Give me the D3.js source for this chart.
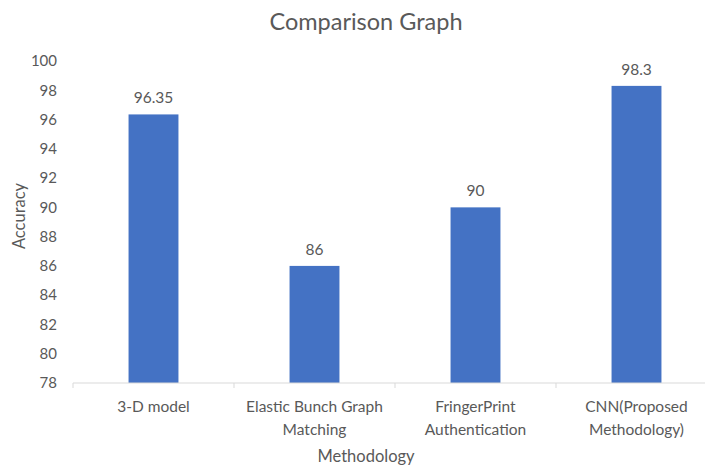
<!DOCTYPE html>
<html>
<head>
<meta charset="utf-8">
<script src="https://cdn.jsdelivr.net/npm/d3@7"></script>
<style>
  body { margin: 0; background: #fff; }
  svg text { font-family: Lato, "Open Sans", sans-serif; fill: #595959; }
</style>
</head>
<body>
<svg id="chart"></svg>
<script>
// Data
var methods = [
  ['3-D model'],
  ['Elastic Bunch Graph', 'Matching'],
  ['FringerPrint', 'Authentication'],
  ['CNN(Proposed', 'Methodology)']
];
var accuracy = [96.35, 86, 90, 98.3];
var yTicks = [78, 80, 82, 84, 86, 88, 90, 92, 94, 96, 98, 100];

var width = 705, height = 467;
// plot area (window.top is reserved, so no plain "top")
var plotLeft = 73, plotRight = 717, plotTop = 61, plotBottom = 383;

var svg = d3.select('#chart')
  .attr('width', width)
  .attr('height', height);

var x = d3.scaleBand()
  .domain(d3.range(methods.length))
  .range([plotLeft, plotRight])
  .padding(0);

var y = d3.scaleLinear()
  .domain([78, 100])
  .range([plotBottom, plotTop]);

var barW = x.bandwidth() * 0.31;

// title
svg.append('text')
  .attr('x', 366)
  .attr('y', 30)
  .attr('text-anchor', 'middle')
  .style('font-size', '23.5px')
  .text('Comparison Graph');

// y axis labels
var yAxis = svg.append('g')
  .attr('transform', 'translate(' + plotLeft + ',0)')
  .call(d3.axisLeft(y).tickValues(yTicks).tickSize(0).tickPadding(16));
yAxis.select('.domain').remove();
yAxis.selectAll('text')
  .style('font-size', '15px')
  .style('fill', '#595959')
  .style('font-family', 'Lato, "Open Sans", sans-serif');

// bars
svg.selectAll('rect.bar')
  .data(accuracy)
  .enter()
  .append('rect')
  .attr('class', 'bar')
  .attr('x', function(d, i) { return x(i) + (x.bandwidth() - barW) / 2; })
  .attr('y', function(d) { return y(d); })
  .attr('width', barW)
  .attr('height', function(d) { return plotBottom - y(d); })
  .attr('fill', '#4472c4');

// value labels
svg.selectAll('text.val')
  .data(accuracy)
  .enter()
  .append('text')
  .attr('class', 'val')
  .attr('x', function(d, i) { return x(i) + x.bandwidth() / 2; })
  .attr('y', function(d) { return y(d) - 11; })
  .attr('text-anchor', 'middle')
  .style('font-size', '15.5px')
  .text(function(d) { return d; });

// x axis line and category ticks
svg.append('line')
  .attr('x1', plotLeft).attr('x2', plotRight)
  .attr('y1', plotBottom).attr('y2', plotBottom)
  .attr('stroke', '#d9d9d9');
svg.selectAll('line.tick')
  .data(d3.range(methods.length + 1))
  .enter()
  .append('line')
  .attr('class', 'tick')
  .attr('x1', function(i) { return plotLeft + i * x.step(); })
  .attr('x2', function(i) { return plotLeft + i * x.step(); })
  .attr('y1', plotBottom).attr('y2', plotBottom + 5)
  .attr('stroke', '#d9d9d9');

// category labels
var cats = svg.selectAll('text.cat')
  .data(methods)
  .enter()
  .append('text')
  .attr('class', 'cat')
  .attr('text-anchor', 'middle')
  .style('font-size', '15.5px');
cats.selectAll('tspan')
  .data(function(d, i) { return d.map(function(s) { return {s: s, i: i}; }); })
  .enter()
  .append('tspan')
  .attr('x', function(d) { return x(d.i) + x.bandwidth() / 2; })
  .attr('y', function(d, j) { return 412 + j * 23; })
  .text(function(d) { return d.s; });

// axis titles
svg.append('text')
  .attr('x', 366)
  .attr('y', 462)
  .attr('text-anchor', 'middle')
  .style('font-size', '16.5px')
  .text('Methodology');

svg.append('text')
  .attr('transform', 'translate(25,216) rotate(-90)')
  .attr('text-anchor', 'middle')
  .style('font-size', '16.5px')
  .text('Accuracy');
</script>
</body>
</html>
